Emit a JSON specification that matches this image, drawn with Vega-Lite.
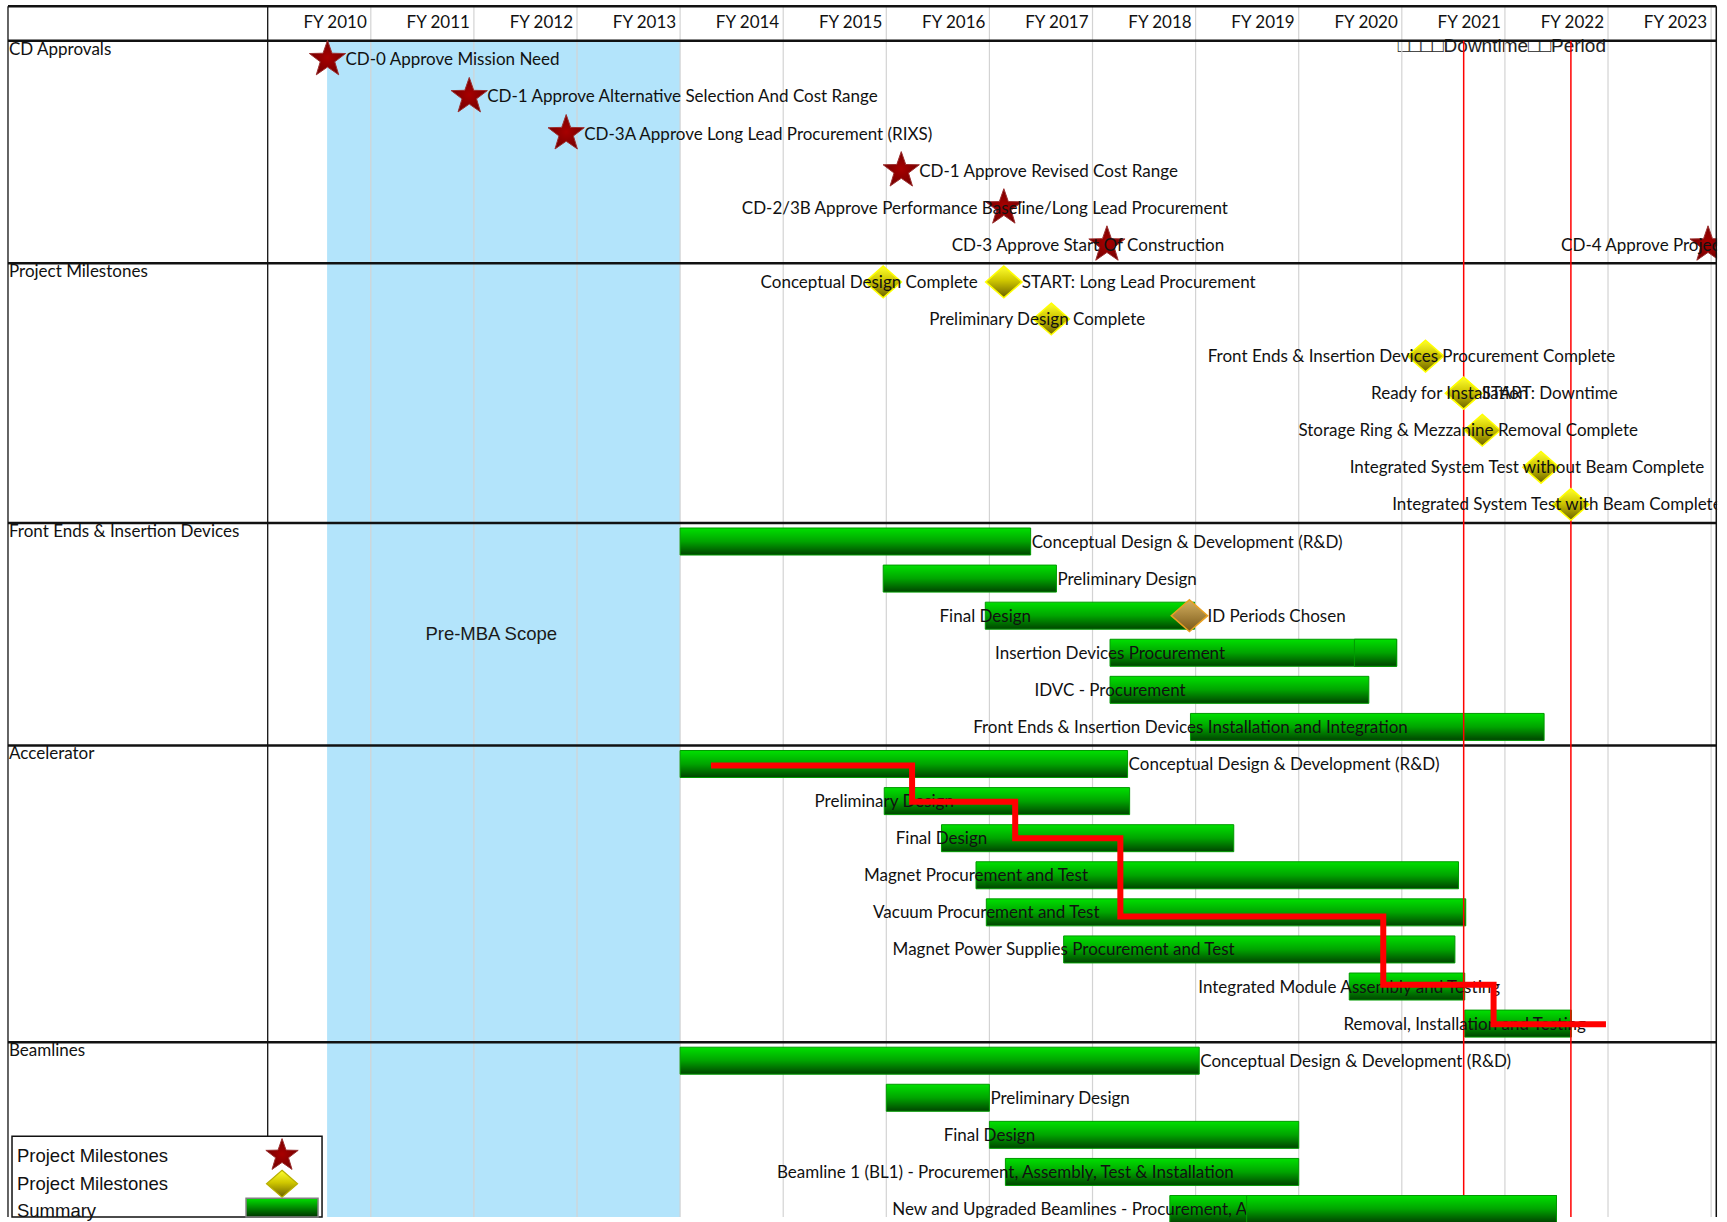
{
"$schema": "https://vega.github.io/schema/vega-lite/v6.json",
"width": 1727, "height": 1222, "padding": 0,
"autosize": "none",
"background": "white",
"config": {"view": {"stroke": null}, "font": "Lato", "axis": {"disable": true}},
"datasets": {
"years": [{"yr":2010,"label":"FY 2010"},{"yr":2011,"label":"FY 2011"},{"yr":2012,"label":"FY 2012"},{"yr":2013,"label":"FY 2013"},{"yr":2014,"label":"FY 2014"},{"yr":2015,"label":"FY 2015"},{"yr":2016,"label":"FY 2016"},{"yr":2017,"label":"FY 2017"},{"yr":2018,"label":"FY 2018"},{"yr":2019,"label":"FY 2019"},{"yr":2020,"label":"FY 2020"},{"yr":2021,"label":"FY 2021"},{"yr":2022,"label":"FY 2022"},{"yr":2023,"label":"FY 2023"}],
"sections": [{"name":"CD Approvals","b":0.5},{"name":"Project Milestones","b":6.5},{"name":"Front Ends & Insertion Devices","b":13.5},{"name":"Accelerator","b":19.5},{"name":"Beamlines","b":27.5}],
"hlines": [{"y":-0.43},{"y":0.5},{"y":6.5},{"y":13.5},{"y":19.5},{"y":27.5}],
"vlines": [{"x":2006.481},{"x":2009.0}],
"downtime": [{"x":2020.60},{"x":2021.64}],
"path": [{"x":2013.3,"y":20.04},{"x":2015.25,"y":21.02},{"x":2016.25,"y":22.0},{"x":2017.27,"y":24.11},{"x":2019.82,"y":25.95},{"x":2020.89,"y":27.02},{"x":2021.98,"y":27.02}],
"legend": [{"label":"Project Milestones","kind":"star","y":30.56},{"label":"Project Milestones","kind":"diamond","y":31.32},{"label":"Summary","kind":"bar","y":32.06}],
"tasks": [
{"row":1,"name":"CD-0 Approve Mission Need","type":"star","start":2009.58,"lab":"right"},
{"row":2,"name":"CD-1 Approve Alternative Selection And Cost Range","type":"star","start":2010.955,"lab":"right"},
{"row":3,"name":"CD-3A Approve Long Lead Procurement (RIXS)","type":"star","start":2011.895,"lab":"right"},
{"row":4,"name":"CD-1 Approve Revised Cost Range","type":"star","start":2015.145,"lab":"right"},
{"row":5,"name":"CD-2/3B Approve Performance Baseline/Long Lead Procurement","type":"star","start":2016.14,"lab":"center"},
{"row":6,"name":"CD-3 Approve Start Of Construction","type":"star","start":2017.14,"lab":"center"},
{"row":6,"name":"CD-4 Approve Project Completion","type":"star","start":2022.97,"lab":"center"},
{"row":7,"name":"Conceptual Design Complete","type":"diamond","start":2014.97,"lab":"center"},
{"row":7,"name":"START:  Long Lead Procurement","type":"diamond","start":2016.14,"lab":"right"},
{"row":8,"name":"Preliminary Design Complete","type":"diamond","start":2016.6,"lab":"center"},
{"row":9,"name":"Front Ends & Insertion Devices Procurement Complete","type":"diamond","start":2020.23,"lab":"center"},
{"row":10,"name":"Ready for Installation","type":"diamond","start":2020.6,"lab":"center"},
{"row":10,"name":"START: Downtime","type":"diamond","start":2020.6,"lab":"right"},
{"row":11,"name":"Storage Ring & Mezzanine Removal Complete","type":"diamond","start":2020.78,"lab":"center"},
{"row":12,"name":"Integrated System Test without Beam Complete","type":"diamond","start":2021.35,"lab":"center"},
{"row":13,"name":"Integrated System Test with Beam Complete","type":"diamond","start":2021.64,"lab":"center"},
{"row":14,"name":"Conceptual Design & Development (R&D)","type":"bar","start":2013.0,"end":2016.4,"lab":"right","seg":1},
{"row":15,"name":"Preliminary Design","type":"bar","start":2014.97,"end":2016.65,"lab":"right","seg":1},
{"row":16,"name":"Final Design","type":"bar","start":2015.96,"end":2017.99,"lab":"center","seg":1},
{"row":16,"name":"ID Periods Chosen","type":"gold","start":2017.94,"lab":"right"},
{"row":17,"name":"Insertion Devices Procurement","type":"bar","start":2017.17,"end":2019.95,"lab":"center","seg":1},
{"row":17,"name":"Insertion Devices Procurement","type":"bar","start":2019.54,"end":2019.95,"lab":"none","seg":2},
{"row":18,"name":"IDVC - Procurement","type":"bar","start":2017.17,"end":2019.68,"lab":"center","seg":1},
{"row":19,"name":"Front Ends & Insertion Devices Installation and Integration","type":"bar","start":2017.95,"end":2021.38,"lab":"center","seg":1},
{"row":20,"name":"Conceptual Design & Development (R&D)","type":"bar","start":2013.0,"end":2017.34,"lab":"right","seg":1},
{"row":21,"name":"Preliminary Design","type":"bar","start":2014.98,"end":2017.36,"lab":"center","seg":1},
{"row":22,"name":"Final Design","type":"bar","start":2015.535,"end":2018.37,"lab":"center","seg":1},
{"row":23,"name":"Magnet Procurement and Test","type":"bar","start":2015.87,"end":2020.55,"lab":"center","seg":1},
{"row":24,"name":"Vacuum Procurement and Test","type":"bar","start":2015.97,"end":2020.62,"lab":"center","seg":1},
{"row":25,"name":"Magnet Power Supplies Procurement and Test","type":"bar","start":2016.72,"end":2020.515,"lab":"center","seg":1},
{"row":26,"name":"Integrated Module Assembly and Testing","type":"bar","start":2019.49,"end":2020.61,"lab":"center","seg":1},
{"row":27,"name":"Removal, Installation and Testing","type":"bar","start":2020.61,"end":2021.645,"lab":"center","seg":1},
{"row":28,"name":"Conceptual Design & Development (R&D)","type":"bar","start":2013.0,"end":2018.035,"lab":"right","seg":1},
{"row":29,"name":"Preliminary Design","type":"bar","start":2015.0,"end":2016.0,"lab":"right","seg":1},
{"row":30,"name":"Final Design","type":"bar","start":2016.0,"end":2019.0,"lab":"center","seg":1},
{"row":31,"name":"Beamline 1 (BL1) - Procurement, Assembly, Test & Installation","type":"bar","start":2016.155,"end":2019.0,"lab":"center","seg":1},
{"row":32,"name":"New and Upgraded Beamlines - Procurement, Assembly, Test & Installation","type":"bar","start":2017.75,"end":2021.5,"lab":"center","seg":1},
{"row":32,"name":"New and Upgraded Beamlines - Procurement, Assembly, Test & Installation","type":"bar","start":2018.495,"end":2021.5,"lab":"none","seg":2}
]
},
"layer": [
{"data":{"values":[{"t":"□□□□Downtime□□Period"}]},"mark":{"type":"text","font":"Liberation Sans","fontSize":19,"align":"left","baseline":"middle","color":"#222222","clip":true},
 "encoding":{"x":{"datum":2019.96,"type":"quantitative","scale":{"domain":[2006.4035,2023.154],"nice":false,"zero":false},"axis":null},"y":{"datum":0.643,"type":"quantitative","scale":{"domain":[-0.467,32.215],"reverse":true,"nice":false,"zero":false},"axis":null},"text":{"field":"t"}}},
{"data":{"values":[{"n":"pre"}]},"mark":{"type":"rect","color":"#b3e4fb","clip":true},
 "encoding":{"x":{"datum":2009.576,"type":"quantitative","scale":{"domain":[2006.4035,2023.154],"nice":false,"zero":false},"axis":null},"x2":{"datum":2013.0},"y":{"datum":0.5,"type":"quantitative","scale":{"domain":[-0.467,32.215],"reverse":true,"nice":false,"zero":false},"axis":null},"y2":{"datum":32.215}}},
{"data":{"name":"years"},"mark":{"type":"rule","color":"#d3d3d3","strokeWidth":1.2,"clip":true},
 "encoding":{"x":{"field":"yr","type":"quantitative","scale":{"domain":[2006.4035,2023.154],"nice":false,"zero":false},"axis":null},"y":{"datum":-0.43,"type":"quantitative","scale":{"domain":[-0.467,32.215],"reverse":true,"nice":false,"zero":false},"axis":null},"y2":{"datum":32.215}}},
{"data":{"name":"vlines"},"mark":{"type":"rule","color":"#111111","strokeWidth":1.3,"clip":true},
 "encoding":{"x":{"field":"x","type":"quantitative","scale":{"domain":[2006.4035,2023.154],"nice":false,"zero":false},"axis":null},"y":{"datum":-0.43,"type":"quantitative","scale":{"domain":[-0.467,32.215],"reverse":true,"nice":false,"zero":false},"axis":null},"y2":{"datum":32.215}}},
{"data":{"name":"hlines"},"mark":{"type":"rule","color":"#111111","strokeWidth":2.5,"clip":true},
 "encoding":{"y":{"field":"y","type":"quantitative","scale":{"domain":[-0.467,32.215],"reverse":true,"nice":false,"zero":false},"axis":null},"x":{"datum":2006.481,"type":"quantitative","scale":{"domain":[2006.4035,2023.154],"nice":false,"zero":false},"axis":null},"x2":{"datum":2023.05}}},
{"data":{"name":"years"},"mark":{"type":"text","font":"Lato","fontSize":17,"align":"right","baseline":"middle","dx":-4,"color":"#111111","clip":true},
 "encoding":{"x":{"field":"yr","type":"quantitative","scale":{"domain":[2006.4035,2023.154],"nice":false,"zero":false},"axis":null},"y":{"datum":0.03,"type":"quantitative","scale":{"domain":[-0.467,32.215],"reverse":true,"nice":false,"zero":false},"axis":null},"text":{"field":"label"}}},
{"data":{"name":"sections"},"mark":{"type":"text","font":"Lato","fontSize":17,"align":"left","baseline":"top","dx":1,"dy":1,"color":"#111111","clip":true},
 "encoding":{"x":{"datum":2006.481,"type":"quantitative","scale":{"domain":[2006.4035,2023.154],"nice":false,"zero":false},"axis":null},"y":{"field":"b","type":"quantitative","scale":{"domain":[-0.467,32.215],"reverse":true,"nice":false,"zero":false},"axis":null},"text":{"field":"name"}}},
{"data":{"values":[{"t":"Pre-MBA Scope"}]},"mark":{"type":"text","font":"Liberation Sans","fontSize":18.5,"align":"center","baseline":"middle","color":"#1a1a1a","clip":true},
 "encoding":{"x":{"datum":2011.168,"type":"quantitative","scale":{"domain":[2006.4035,2023.154],"nice":false,"zero":false},"axis":null},"y":{"datum":16.5,"type":"quantitative","scale":{"domain":[-0.467,32.215],"reverse":true,"nice":false,"zero":false},"axis":null},"text":{"field":"t"}}},
{"data":{"name":"tasks"},"transform":[{"filter":"datum.type == 'bar' && datum.seg == 1"}],
 "mark":{"type":"bar","height":27,"clip":true,"stroke":"#009a00","strokeWidth":1,"fill":{"gradient":"linear","x1":0,"y1":0,"x2":0,"y2":1,"stops":[{"offset":0,"color":"#00e000"},{"offset":0.5,"color":"#00a400"},{"offset":1,"color":"#004400"}]}},
 "encoding":{"x":{"field":"start","type":"quantitative","scale":{"domain":[2006.4035,2023.154],"nice":false,"zero":false},"axis":null},"x2":{"field":"end"},"y":{"field":"row","type":"quantitative","scale":{"domain":[-0.467,32.215],"reverse":true,"nice":false,"zero":false},"axis":null}}},
{"data":{"name":"downtime"},"mark":{"type":"rule","color":"#ff0000","strokeWidth":1.5,"clip":true},
 "encoding":{"x":{"field":"x","type":"quantitative","scale":{"domain":[2006.4035,2023.154],"nice":false,"zero":false},"axis":null},"y":{"datum":0.5,"type":"quantitative","scale":{"domain":[-0.467,32.215],"reverse":true,"nice":false,"zero":false},"axis":null},"y2":{"datum":32.215}}},
{"data":{"name":"tasks"},"transform":[{"filter":"datum.type == 'star'"}],
 "mark":{"type":"point","shape":"M0,-1L0.235,-0.324L0.951,-0.309L0.38,0.124L0.588,0.809L0,0.4L-0.588,0.809L-0.38,0.124L-0.951,-0.309L-0.235,-0.324Z","size":1450,"filled":true,"opacity":1,"clip":true,"stroke":"#9c3030","strokeWidth":1,"fill":{"gradient":"radial","x1":0.5,"y1":0.5,"x2":0.5,"y2":0.5,"r1":0,"r2":0.6,"stops":[{"offset":0,"color":"#a80000"},{"offset":1,"color":"#6a0000"}]}},
 "encoding":{"x":{"field":"start","type":"quantitative","scale":{"domain":[2006.4035,2023.154],"nice":false,"zero":false},"axis":null},"y":{"field":"row","type":"quantitative","scale":{"domain":[-0.467,32.215],"reverse":true,"nice":false,"zero":false},"axis":null}}},
{"data":{"name":"tasks"},"transform":[{"filter":"datum.type == 'diamond'"}],
 "mark":{"type":"point","shape":"M0,-1L1.15,0L0,1L-1.15,0Z","size":1000,"filled":true,"opacity":1,"clip":true,"stroke":"#ffff00","strokeWidth":1.5,"fill":{"gradient":"linear","x1":0,"y1":0,"x2":0,"y2":1,"stops":[{"offset":0,"color":"#ffff30"},{"offset":0.45,"color":"#d0c800"},{"offset":1,"color":"#6b6000"}]}},
 "encoding":{"x":{"field":"start","type":"quantitative","scale":{"domain":[2006.4035,2023.154],"nice":false,"zero":false},"axis":null},"y":{"field":"row","type":"quantitative","scale":{"domain":[-0.467,32.215],"reverse":true,"nice":false,"zero":false},"axis":null}}},
{"data":{"name":"tasks"},"transform":[{"filter":"datum.type == 'gold'"}],
 "mark":{"type":"point","shape":"M0,-1L1.15,0L0,1L-1.15,0Z","size":1000,"filled":true,"opacity":1,"clip":true,"stroke":"#e8a020","strokeWidth":1.5,"fill":{"gradient":"linear","x1":0,"y1":0,"x2":0,"y2":1,"stops":[{"offset":0,"color":"#d4b060"},{"offset":1,"color":"#7a5818"}]}},
 "encoding":{"x":{"field":"start","type":"quantitative","scale":{"domain":[2006.4035,2023.154],"nice":false,"zero":false},"axis":null},"y":{"field":"row","type":"quantitative","scale":{"domain":[-0.467,32.215],"reverse":true,"nice":false,"zero":false},"axis":null}}},
{"data":{"name":"tasks"},"transform":[{"filter":"datum.type != 'bar' && datum.lab == 'right'"}],
 "mark":{"type":"text","font":"Lato","fontSize":17,"align":"left","baseline":"middle","dx":18,"dy":1,"color":"#111111","clip":true},
 "encoding":{"x":{"field":"start","type":"quantitative","scale":{"domain":[2006.4035,2023.154],"nice":false,"zero":false},"axis":null},"y":{"field":"row","type":"quantitative","scale":{"domain":[-0.467,32.215],"reverse":true,"nice":false,"zero":false},"axis":null},"text":{"field":"name"}}},
{"data":{"name":"tasks"},"transform":[{"filter":"datum.type == 'star' && datum.lab == 'center'"}],
 "mark":{"type":"text","font":"Lato","fontSize":17,"align":"center","baseline":"middle","dx":-19,"dy":1,"color":"#111111","clip":true},
 "encoding":{"x":{"field":"start","type":"quantitative","scale":{"domain":[2006.4035,2023.154],"nice":false,"zero":false},"axis":null},"y":{"field":"row","type":"quantitative","scale":{"domain":[-0.467,32.215],"reverse":true,"nice":false,"zero":false},"axis":null},"text":{"field":"name"}}},
{"data":{"name":"tasks"},"transform":[{"filter":"datum.type == 'diamond' && datum.lab == 'center'"}],
 "mark":{"type":"text","font":"Lato","fontSize":17,"align":"center","baseline":"middle","dx":-14,"dy":1,"color":"#111111","clip":true},
 "encoding":{"x":{"field":"start","type":"quantitative","scale":{"domain":[2006.4035,2023.154],"nice":false,"zero":false},"axis":null},"y":{"field":"row","type":"quantitative","scale":{"domain":[-0.467,32.215],"reverse":true,"nice":false,"zero":false},"axis":null},"text":{"field":"name"}}},
{"data":{"name":"tasks"},"transform":[{"filter":"datum.type == 'bar' && datum.lab == 'right'"}],
 "mark":{"type":"text","font":"Lato","fontSize":17,"align":"left","baseline":"middle","dx":1,"dy":1,"color":"#111111","clip":true},
 "encoding":{"x":{"field":"end","type":"quantitative","scale":{"domain":[2006.4035,2023.154],"nice":false,"zero":false},"axis":null},"y":{"field":"row","type":"quantitative","scale":{"domain":[-0.467,32.215],"reverse":true,"nice":false,"zero":false},"axis":null},"text":{"field":"name"}}},
{"data":{"name":"tasks"},"transform":[{"filter":"datum.type == 'bar' && datum.lab == 'center'"}],
 "mark":{"type":"text","font":"Lato","fontSize":17,"align":"center","baseline":"middle","dy":1,"color":"#111111","clip":true},
 "encoding":{"x":{"field":"start","type":"quantitative","scale":{"domain":[2006.4035,2023.154],"nice":false,"zero":false},"axis":null},"y":{"field":"row","type":"quantitative","scale":{"domain":[-0.467,32.215],"reverse":true,"nice":false,"zero":false},"axis":null},"text":{"field":"name"}}},
{"data":{"name":"tasks"},"transform":[{"filter":"datum.type == 'bar' && datum.seg == 2"}],
 "mark":{"type":"bar","height":27,"clip":true,"stroke":"#009a00","strokeWidth":1,"fill":{"gradient":"linear","x1":0,"y1":0,"x2":0,"y2":1,"stops":[{"offset":0,"color":"#00e000"},{"offset":0.5,"color":"#00a400"},{"offset":1,"color":"#004400"}]}},
 "encoding":{"x":{"field":"start","type":"quantitative","scale":{"domain":[2006.4035,2023.154],"nice":false,"zero":false},"axis":null},"x2":{"field":"end"},"y":{"field":"row","type":"quantitative","scale":{"domain":[-0.467,32.215],"reverse":true,"nice":false,"zero":false},"axis":null}}},
{"data":{"name":"path"},"mark":{"type":"line","interpolate":"step-after","color":"#ff0000","strokeWidth":6,"clip":true},
 "encoding":{"x":{"field":"x","type":"quantitative","scale":{"domain":[2006.4035,2023.154],"nice":false,"zero":false},"axis":null},"y":{"field":"y","type":"quantitative","scale":{"domain":[-0.467,32.215],"reverse":true,"nice":false,"zero":false},"axis":null}}},
{"data":{"values":[{"n":"mask"}]},"mark":{"type":"rect","fill":"white","clip":true},
 "encoding":{"x":{"datum":2023.058,"type":"quantitative","scale":{"domain":[2006.4035,2023.154],"nice":false,"zero":false},"axis":null},"x2":{"datum":2023.154},"y":{"datum":-0.467,"type":"quantitative","scale":{"domain":[-0.467,32.215],"reverse":true,"nice":false,"zero":false},"axis":null},"y2":{"datum":32.215}}},
{"data":{"values":[{"x":2023.05}]},"mark":{"type":"rule","color":"#111111","strokeWidth":1.5,"clip":true},
 "encoding":{"x":{"field":"x","type":"quantitative","scale":{"domain":[2006.4035,2023.154],"nice":false,"zero":false},"axis":null},"y":{"datum":-0.43,"type":"quantitative","scale":{"domain":[-0.467,32.215],"reverse":true,"nice":false,"zero":false},"axis":null},"y2":{"datum":32.215}}},
{"data":{"values":[{"n":"box"}]},"mark":{"type":"rect","fill":"white","stroke":"#111111","strokeWidth":1.5,"clip":true},
 "encoding":{"x":{"datum":2006.52,"type":"quantitative","scale":{"domain":[2006.4035,2023.154],"nice":false,"zero":false},"axis":null},"x2":{"datum":2009.527},"y":{"datum":30.04,"type":"quantitative","scale":{"domain":[-0.467,32.215],"reverse":true,"nice":false,"zero":false},"axis":null},"y2":{"datum":32.215}}},
{"data":{"name":"legend"},"mark":{"type":"text","font":"Liberation Sans","fontSize":18.5,"align":"left","baseline":"middle","color":"#111111","clip":true},
 "encoding":{"x":{"datum":2006.568,"type":"quantitative","scale":{"domain":[2006.4035,2023.154],"nice":false,"zero":false},"axis":null},"y":{"field":"y","type":"quantitative","scale":{"domain":[-0.467,32.215],"reverse":true,"nice":false,"zero":false},"axis":null},"text":{"field":"label"}}},
{"data":{"name":"legend"},"transform":[{"filter":"datum.kind == 'star'"}],
 "mark":{"type":"point","shape":"M0,-1L0.235,-0.324L0.951,-0.309L0.38,0.124L0.588,0.809L0,0.4L-0.588,0.809L-0.38,0.124L-0.951,-0.309L-0.235,-0.324Z","size":1156,"filled":true,"opacity":1,"clip":true,"stroke":"#9c3030","strokeWidth":1,"fill":{"gradient":"radial","x1":0.5,"y1":0.5,"x2":0.5,"y2":0.5,"r1":0,"r2":0.6,"stops":[{"offset":0,"color":"#a80000"},{"offset":1,"color":"#6a0000"}]}},
 "encoding":{"x":{"datum":2009.139,"type":"quantitative","scale":{"domain":[2006.4035,2023.154],"nice":false,"zero":false},"axis":null},"y":{"field":"y","type":"quantitative","scale":{"domain":[-0.467,32.215],"reverse":true,"nice":false,"zero":false},"axis":null}}},
{"data":{"name":"legend"},"transform":[{"filter":"datum.kind == 'diamond'"}],
 "mark":{"type":"point","shape":"M0,-1L1.15,0L0,1L-1.15,0Z","size":729,"filled":true,"opacity":1,"clip":true,"stroke":"#b8b000","strokeWidth":1.2,"fill":{"gradient":"linear","x1":0,"y1":0,"x2":0,"y2":1,"stops":[{"offset":0,"color":"#ffff30"},{"offset":0.45,"color":"#d0c800"},{"offset":1,"color":"#6b6000"}]}},
 "encoding":{"x":{"datum":2009.139,"type":"quantitative","scale":{"domain":[2006.4035,2023.154],"nice":false,"zero":false},"axis":null},"y":{"field":"y","type":"quantitative","scale":{"domain":[-0.467,32.215],"reverse":true,"nice":false,"zero":false},"axis":null}}},
{"data":{"values":[{"n":"sum"}]},"mark":{"type":"rect","stroke":"#808080","strokeWidth":1.5,"clip":true,"fill":{"gradient":"linear","x1":0,"y1":0,"x2":0,"y2":1,"stops":[{"offset":0,"color":"#00e000"},{"offset":1,"color":"#003300"}]}},
 "encoding":{"x":{"datum":2008.79,"type":"quantitative","scale":{"domain":[2006.4035,2023.154],"nice":false,"zero":false},"axis":null},"x2":{"datum":2009.488},"y":{"datum":31.71,"type":"quantitative","scale":{"domain":[-0.467,32.215],"reverse":true,"nice":false,"zero":false},"axis":null},"y2":{"datum":32.215}}}
]
}
